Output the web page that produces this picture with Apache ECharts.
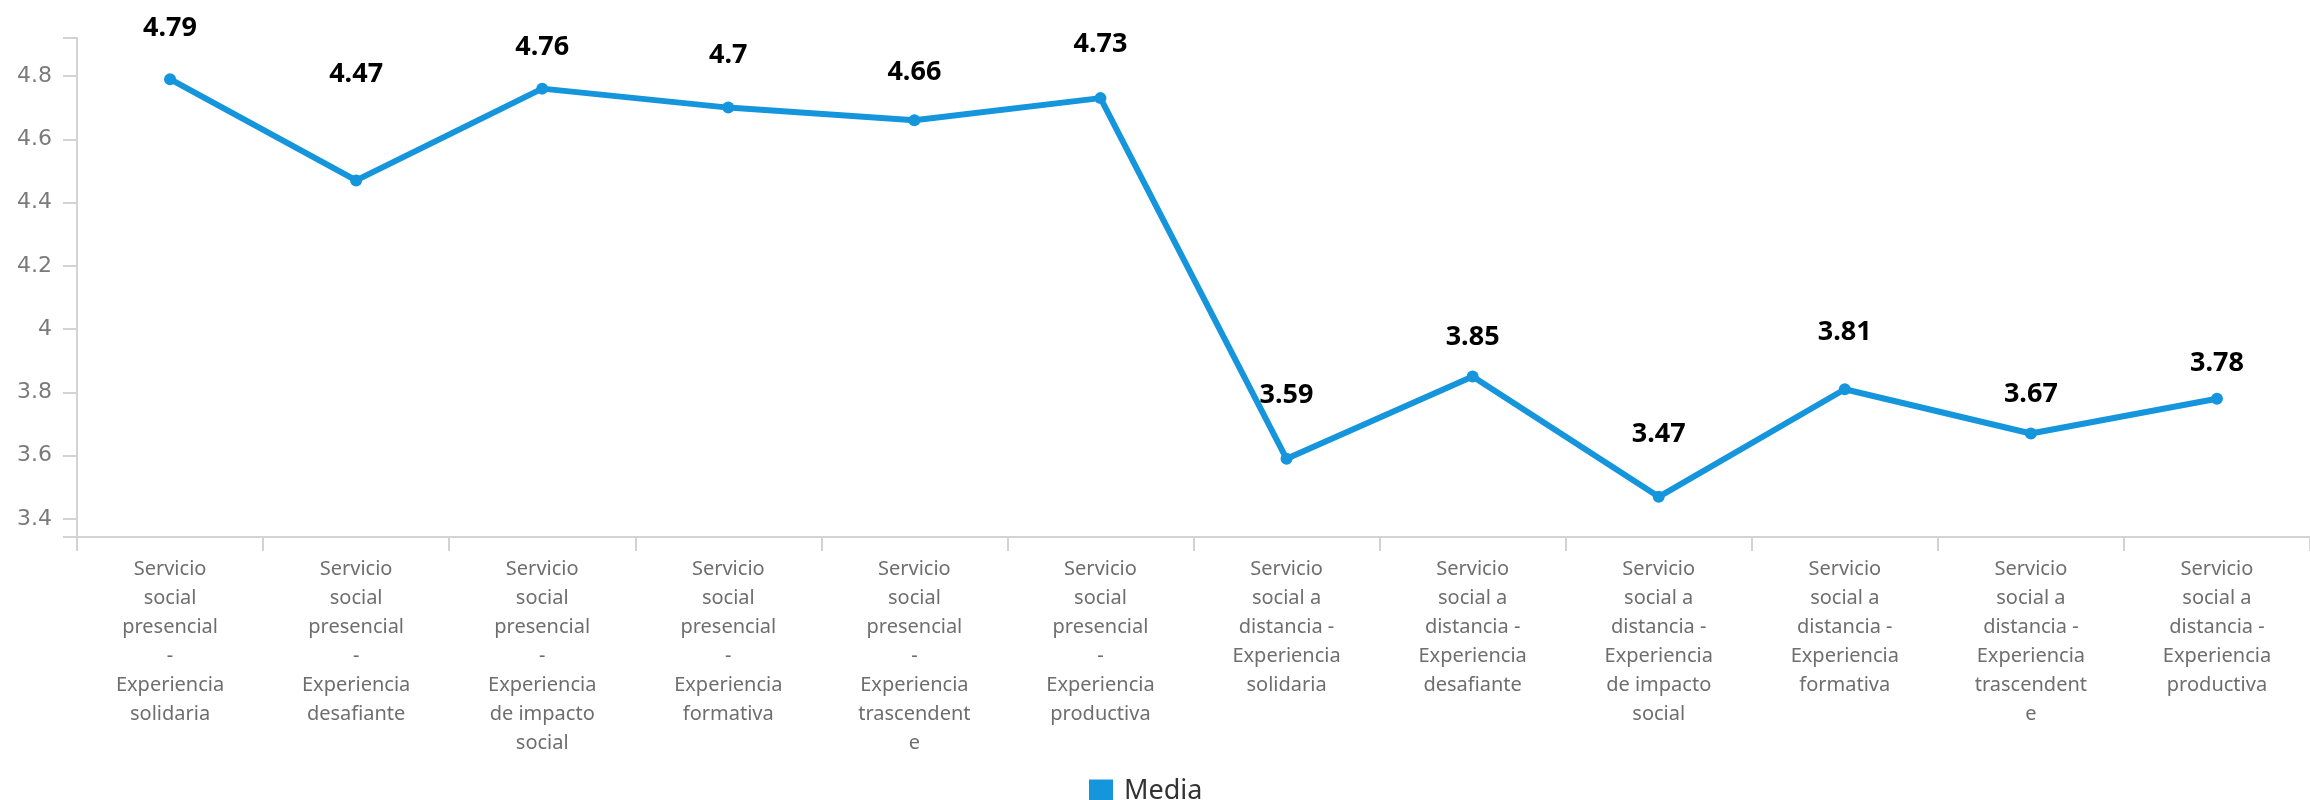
<!DOCTYPE html>
<html>
<head>
<meta charset="utf-8">
<script src="https://cdn.jsdelivr.net/npm/echarts@6/dist/echarts.min.js"></script>
<style>
html,body{margin:0;padding:0;background:#fff;}
#chart{width:2310px;height:800px;}
</style>
</head>
<body>
<div id="chart"></div>
<script>
const categories = [
  "Servicio\nsocial\npresencial\n-\nExperiencia\nsolidaria",
  "Servicio\nsocial\npresencial\n-\nExperiencia\ndesafiante",
  "Servicio\nsocial\npresencial\n-\nExperiencia\nde impacto\nsocial",
  "Servicio\nsocial\npresencial\n-\nExperiencia\nformativa",
  "Servicio\nsocial\npresencial\n-\nExperiencia\ntrascendent\ne",
  "Servicio\nsocial\npresencial\n-\nExperiencia\nproductiva",
  "Servicio\nsocial a\ndistancia -\nExperiencia\nsolidaria",
  "Servicio\nsocial a\ndistancia -\nExperiencia\ndesafiante",
  "Servicio\nsocial a\ndistancia -\nExperiencia\nde impacto\nsocial",
  "Servicio\nsocial a\ndistancia -\nExperiencia\nformativa",
  "Servicio\nsocial a\ndistancia -\nExperiencia\ntrascendent\ne",
  "Servicio\nsocial a\ndistancia -\nExperiencia\nproductiva"
];
const media = [4.79, 4.47, 4.76, 4.70, 4.66, 4.73, 3.59, 3.85, 3.47, 3.81, 3.67, 3.78];
const yTickLabels = [3.4, 3.6, 3.8, 4, 4.2, 4.4, 4.6, 4.8];
const seriesName = "Media";

// label placement (style only, not data)
const labelDist = [31, 87, 22, 33, 28, 34, 44, 20, 43, 37, 20, 16];
const yMin = 3.343, yMax = 4.92;

const chart = echarts.init(document.getElementById('chart'), null, {renderer: 'canvas'});
const gray = '#d3d3d3';
const blue = '#1596dc';
chart.setOption({
  animation: false,
  backgroundColor: '#ffffff',
  grid: {left: 77, right: -16, top: 38, bottom: 263, containLabel: false},
  legend: {
    data: [seriesName],
    bottom: -10,
    left: 1084,
    itemWidth: 24,
    itemHeight: 24,
    itemGap: 10,
    icon: 'rect',
    textStyle: {fontFamily: 'Noto Sans', fontSize: 27, color: '#333333', padding: [0,0,0,6]}
  },
  xAxis: {
    type: 'category',
    data: categories,
    boundaryGap: true,
    axisLine: {lineStyle: {color: gray, width: 2}},
    axisTick: {show: true, alignWithLabel: false, length: 14, lineStyle: {color: gray, width: 2}},
    axisLabel: {
      interval: 0,
      margin: 18,
      fontFamily: 'Noto Sans',
      fontSize: 20,
      lineHeight: 29,
      color: '#6e6e6e',
      align: 'center'
    }
  },
  yAxis: {
    type: 'value',
    min: yMin,
    max: yMax,
    splitLine: {show: false},
    axisLine: {show: true, lineStyle: {color: gray, width: 2}},
    axisTick: {show: true, length: 14, lineStyle: {color: gray, width: 2}, customValues: [yMin].concat(yTickLabels, [yMax])},
    axisLabel: {
      customValues: yTickLabels,
      margin: 25,
      fontFamily: 'DejaVu Sans',
      fontSize: 22,
      color: '#7a7a7a'
    }
  },
  series: [{
    name: seriesName,
    type: 'line',
    data: media.map((v, i) => ({value: v, label: {distance: labelDist[i]}})),
    color: blue,
    lineStyle: {width: 6, color: blue},
    symbol: 'circle',
    symbolSize: 12,
    itemStyle: {color: blue},
    label: {
      show: true,
      position: 'top',
      fontFamily: 'Noto Sans',
      fontWeight: 'bold',
      fontSize: 27,
      color: '#000000'
    }
  }]
});
</script>
</body>
</html>
